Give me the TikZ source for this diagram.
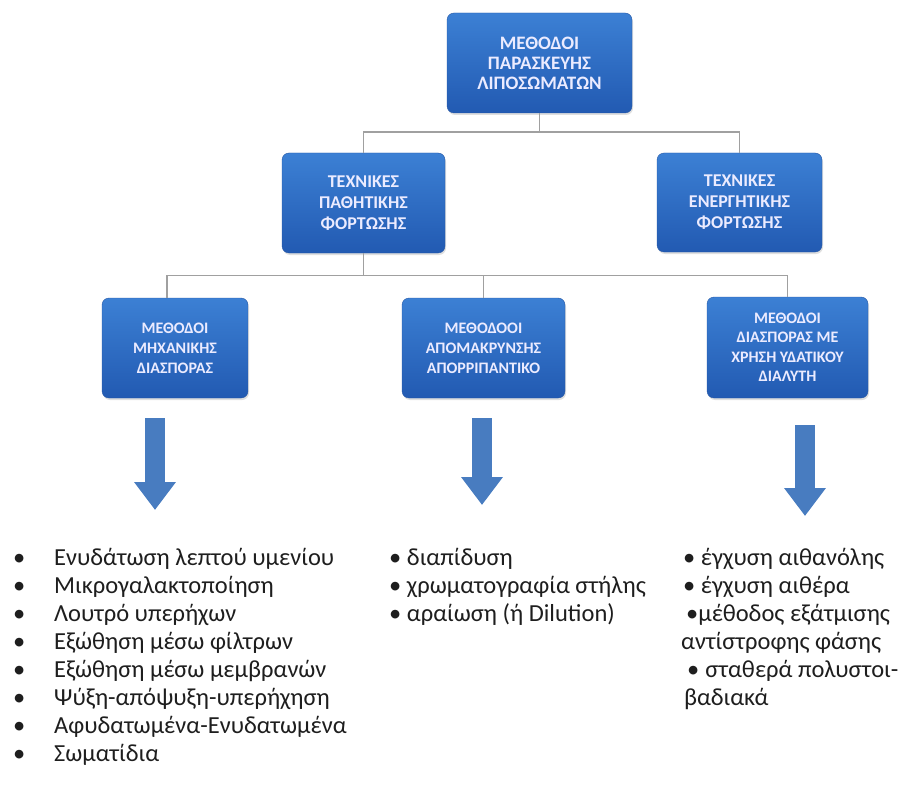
\documentclass[tikz,border=0pt]{standalone}
\usepackage{fontspec}
\setmainfont{Carlito}
\usepackage{tikz}
\usetikzlibrary{arrows.meta, positioning, shadows}

\definecolor{boxtop}{RGB}{60,128,212}
\definecolor{boxbottom}{RGB}{34,90,178}
\definecolor{boxedge}{RGB}{38,88,165}
\definecolor{arrowblue}{RGB}{72,124,192}
\definecolor{linkgray}{RGB}{160,160,160}
\definecolor{listtext}{RGB}{30,30,30}

\newcommand{\bitem}[1]{\makebox[41pt][l]{\textbullet}#1}

\begin{document}
\begin{tikzpicture}[
    x=1pt, y=-1pt,
    methodbox/.style={rectangle, rounded corners=7pt, draw=boxedge, thin,
        top color=boxtop, bottom color=boxbottom, text=white!92!blue, align=center,
        drop shadow={opacity=0.25, shadow xshift=1pt, shadow yshift=-2pt},
        inner sep=2pt},
    toprow/.style={methodbox, font=\bfseries\fontsize{18}{21}\selectfont},
    lowrow/.style={methodbox, font=\bfseries\fontsize{16}{20}\selectfont},
    link/.style={draw=linkgray, line width=1.4pt},
    bigarrow/.style={draw=arrowblue, line width=20pt, -{Triangle[width=40pt, length=28pt]}},
    listnode/.style={anchor=north west, inner sep=0pt, align=left, text=listtext,
        font=\fontsize{24.5}{28}\selectfont}
]
\useasboundingbox (0,0) rectangle (909,794);

% Root node
\node[toprow, minimum width=185pt, minimum height=100pt, font=\bfseries\fontsize{19}{20}\selectfont] (root) at (539.5,63)
    {ΜΕΘΟΔΟΙ\\ΠΑΡΑΣΚΕΥΗΣ\\ΛΙΠΟΣΩΜΑΤΩΝ};

% Loading techniques
\node[toprow, minimum width=163pt, minimum height=100pt] (passive) at (363.5,203)
    {ΤΕΧΝΙΚΕΣ\\ΠΑΘΗΤΙΚΗΣ\\ΦΟΡΤΩΣΗΣ};
\node[toprow, minimum width=165pt, minimum height=99pt] (active) at (739.5,202.5)
    {ΤΕΧΝΙΚΕΣ\\ΕΝΕΡΓΗΤΙΚΗΣ\\ΦΟΡΤΩΣΗΣ};

% Passive loading methods
\node[lowrow, minimum width=146pt, minimum height=100pt] (mech) at (175,348)
    {ΜΕΘΟΔΟΙ\\ΜΗΧΑΝΙΚΗΣ\\ΔΙΑΣΠΟΡΑΣ};
\node[lowrow, minimum width=163pt, minimum height=100pt] (deterg) at (483.5,348)
    {ΜΕΘΟΔΟΟΙ\\ΑΠΟΜΑΚΡΥΝΣΗΣ\\ΑΠΟΡΡΙΠΑΝΤΙΚΟ};
\node[lowrow, minimum width=161pt, minimum height=101pt, font=\bfseries\fontsize{16}{19.5}\selectfont] (solvent) at (787.5,347.5)
    {ΜΕΘΟΔΟΙ\\ΔΙΑΣΠΟΡΑΣ ΜΕ\\ΧΡΗΣΗ ΥΔΑΤΙΚΟΥ\\ΔΙΑΛΥΤΗ};

% Tree links
\draw[link] (root.south) -- ++(0,19) -| (passive.north);
\draw[link] (root.south) -- ++(0,19) -| (active.north);
\draw[link] (passive.south) -- ++(0,22) -| ([xshift=-8pt]mech.north);
\draw[link] (passive.south) -- ++(0,22) -| (deterg.north);
\draw[link] (passive.south) -- ++(0,22) -| (solvent.north);

% Arrow ends
\coordinate (mechtop) at (155,418);
\coordinate (mechtip) at (155,510);
\coordinate (detergtop) at (482,418);
\coordinate (detergtip) at (482,505);
\coordinate (solventtop) at (805,425);
\coordinate (solventtip) at (805,516);

\draw[bigarrow] (mechtop) -- (mechtip);
\draw[bigarrow] (detergtop) -- (detergtip);
\draw[bigarrow] (solventtop) -- (solventtip);

% Method lists
\node[listnode] (mechlist) at (13,548) {%
    \bitem{Ενυδάτωση λεπτού υμενίου}\\
    \bitem{Μικρογαλακτοποίηση}\\
    \bitem{Λουτρό υπερήχων}\\
    \bitem{Εξώθηση μέσω φίλτρων}\\
    \bitem{Εξώθηση μέσω μεμβρανών}\\
    \bitem{Ψύξη-απόψυξη-υπερήχηση}\\
    \bitem{Αφυδατωμένα-Ενυδατωμένα}\\
    \bitem{Σωματίδια}};
\node[listnode] (dettlist) at (389,548) {%
    • διαπίδυση\\
    • χρωματογραφία στήλης\\
    • αραίωση (ή Dilution)};
\node[listnode] (solvlist) at (681,548) {%
    \hspace{2pt}• έγχυση αιθανόλης\\
    \hspace{2pt}• έγχυση αιθέρα\\
    \hspace{5pt}•μέθοδος εξάτμισης\\
    αντίστροφης φάσης\\
    \hspace{6pt}•\hspace{6pt}σταθερά πολυστοι-\\
    \hspace{3pt}βαδιακά};

\end{tikzpicture}
\end{document}
